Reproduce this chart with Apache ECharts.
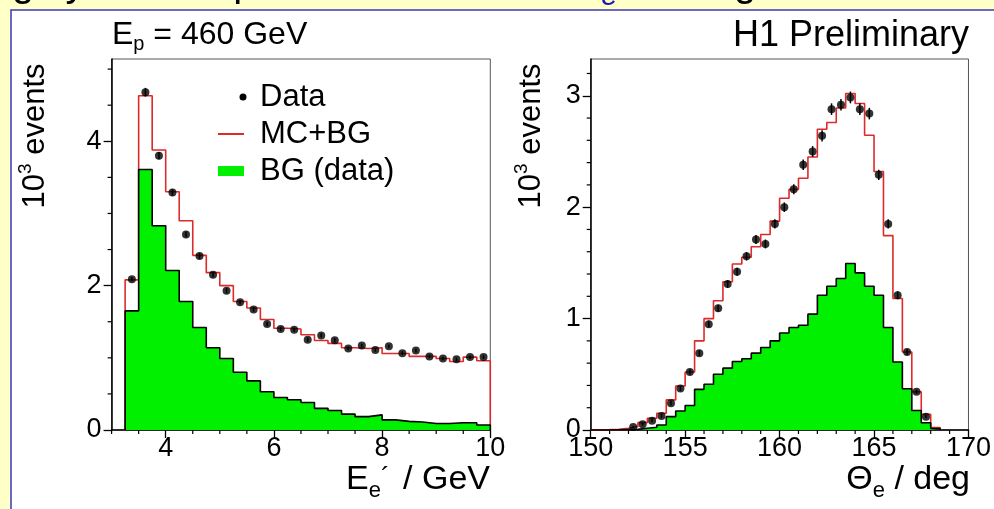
<!DOCTYPE html>
<html><head><meta charset="utf-8">
<script src="https://cdn.jsdelivr.net/npm/echarts@6/dist/echarts.min.js"></script>
<style>html,body{margin:0;padding:0;background:#ffffc8;} #c{width:994px;height:509px;}</style>
</head><body><div id="c"></div>
<script>
// ---------- Left panel: E_e' spectrum (bins of 0.25 GeV from 3.25) ----------
const eEdgeStart = 3.25, eBinWidth = 0.25;
const eMcBg = [2.08,4.63,3.88,3.30,2.90,2.42,2.18,2.00,1.78,1.69,1.53,1.41,1.40,1.32,1.24,1.20,1.14,1.13,1.14,1.06,1.06,1.02,1.02,0.99,0.95,1.01,0.96];
const eBg   = [1.65,3.61,2.83,2.21,1.78,1.42,1.14,0.99,0.80,0.68,0.53,0.45,0.42,0.38,0.30,0.27,0.22,0.185,0.21,0.14,0.12,0.11,0.09,0.09,0.10,0.10,0.07];
const eData = [2.09,4.68,3.80,3.29,2.71,2.41,2.15,1.93,1.77,1.67,1.47,1.40,1.39,1.25,1.31,1.245,1.13,1.17,1.11,1.16,1.065,1.10,1.02,0.99,0.98,1.01,1.01];
const eErr  = [0.03,0.06,0.05,0.045,0.04,0.04,0.035,0.035,0.03,0.03,0.03,0.03,0.03,0.03,0.03,0.03,0.025,0.025,0.025,0.025,0.025,0.025,0.025,0.025,0.025,0.025,0.025];
const eXMajor = [4,6,8,10];
const eXMinor = [3,3.5,4.5,5,5.5,6.5,7,7.5,8.5,9,9.5];
const eYMajor = [0,2,4];
const eYMinor = [0.5,1,1.5,2.5,3,3.5,4.5,5];

// ---------- Right panel: Theta_e spectrum (bins of 0.5 deg from 150) ----------
const tEdgeStart = 150, tBinWidth = 0.5;
const tMcBg = [0.002,0.003,0.006,0.015,0.03,0.066,0.105,0.15,0.27,0.395,0.52,0.80,1.00,1.16,1.33,1.49,1.55,1.645,1.755,1.875,2.08,2.16,2.26,2.45,2.70,2.76,2.89,3.02,2.93,2.645,2.32,1.745,1.18,0.70,0.342,0.14,0.022];
const tBg   = [0,0,0.002,0.004,0.006,0.015,0.024,0.045,0.12,0.17,0.22,0.365,0.41,0.50,0.555,0.615,0.64,0.69,0.74,0.80,0.87,0.92,0.94,1.04,1.21,1.29,1.36,1.495,1.41,1.29,1.21,0.92,0.61,0.37,0.175,0.065,0.013];
const tDataFirstBin = 4; // first data point sits in bin 152-152.5
const tData = [0.027,0.052,0.084,0.126,0.24,0.372,0.52,0.69,0.95,1.093,1.31,1.42,1.56,1.71,1.67,1.85,2.00,2.16,2.38,2.50,2.64,2.88,2.92,2.985,2.88,2.84,2.29,1.85,1.21,0.70,0.344,0.12];
const tErr  = [0.01,0.012,0.015,0.018,0.02,0.022,0.025,0.027,0.03,0.032,0.035,0.036,0.038,0.04,0.04,0.042,0.043,0.045,0.047,0.048,0.05,0.052,0.052,0.053,0.052,0.052,0.047,0.042,0.035,0.027,0.02,0.012];
const tXMajor = [150,155,160,165,170];
const tXMinor = [151,152,153,154,156,157,158,159,161,162,163,164,166,167,168,169];
const tYMajor = [0,1,2,3];
const tYMinor = [0.2,0.4,0.6,0.8,1.2,1.4,1.6,1.8,2.2,2.4,2.6,2.8,3.2];

const FONT = 'Liberation Sans, Arial, Helvetica, sans-serif';
const RED = '#dd2a2a', GREEN = '#00f000';

function stepPoints(start, w, vals) {
  const pts = [[start, 0]];
  vals.forEach((v, i) => pts.push([start + i * w, v]));
  const end = start + vals.length * w;
  pts.push([end, vals[vals.length - 1]]);
  pts.push([end, 0]);
  return pts;
}
function centerPoints(start, w, firstBin, vals, errs) {
  return vals.map((v, i) => [start + (firstBin + i + 0.5) * w, v, errs[i]]);
}

const chart = echarts.init(document.getElementById('c'), null, {renderer: 'canvas'});

function mainX(g, min, max, vals) {
  return {type: 'value', gridIndex: g, min, max, position: 'bottom',
    axisLine: {show: true, onZero: false, lineStyle: {color: '#000', width: 1.5}},
    axisTick: {show: true, length: 8, customValues: vals, lineStyle: {color: '#000', width: 1.3}},
    axisLabel: {customValues: vals, fontSize: 27, color: '#000', margin: 5, fontFamily: FONT},
    splitLine: {show: false}};
}
function mainY(g, min, max, vals) {
  return {type: 'value', gridIndex: g, min, max, position: 'left',
    axisLine: {show: true, onZero: false, lineStyle: {color: '#000', width: 1.5}},
    axisTick: {show: true, length: 8, customValues: vals, lineStyle: {color: '#000', width: 1.3}},
    axisLabel: {customValues: vals, fontSize: 27, color: '#000', margin: 10, fontFamily: FONT},
    splitLine: {show: false}};
}
// minor ticks drawn through the axis scales (short marks just outside the axis line)
function minorTicks(xi, yi, vals, dir, xMin, yMin) {
  const data = vals.map(v => dir === 'x' ? [v, yMin] : [xMin, v]);
  return {type: 'custom', xAxisIndex: xi, yAxisIndex: yi, data, z: 8, clip: false, silent: true,
    encode: {x: 0, y: 1},
    renderItem: function (params, api) {
      const p = api.coord([api.value(0), api.value(1)]);
      const shape = dir === 'x' ? {x1: p[0], y1: p[1], x2: p[0], y2: p[1] + 4}
                                : {x1: p[0] - 4, y1: p[1], x2: p[0], y2: p[1]};
      return {type: 'line', shape, style: {stroke: '#000', lineWidth: 1.2}};
    }};
}

function errSeries(xi, yi, data) {
  return {type: 'custom', xAxisIndex: xi, yAxisIndex: yi, data, z: 6,
    encode: {x: 0, y: 1},
    renderItem: function (params, api) {
      const x = api.value(0), y = api.value(1), e = api.value(2);
      const p1 = api.coord([x, y - e]), p2 = api.coord([x, y + e]);
      return {type: 'line', shape: {x1: p1[0], y1: p1[1], x2: p2[0], y2: p2[1]},
        style: {stroke: '#000', lineWidth: 1.5}};
    }};
}

const eDataPts = centerPoints(eEdgeStart, eBinWidth, 0, eData, eErr);
const tDataPts = centerPoints(tEdgeStart, tBinWidth, tDataFirstBin, tData, tErr);

const option = {
  backgroundColor: '#ffffc8',
  animation: false,
  grid: [
    {left: 111.6, top: 59, width: 378.7, height: 371, show: true, borderColor: '#555', borderWidth: 1, backgroundColor: 'transparent'},
    {left: 590.7, top: 59, width: 379.3, height: 371, show: true, borderColor: '#555', borderWidth: 1, backgroundColor: 'transparent'}
  ],
  xAxis: [mainX(0, 3, 10, eXMajor), mainX(1, 150, 170, tXMajor)],
  yAxis: [mainY(0, 0, 5.14, eYMajor), mainY(1, 0, 3.33, tYMajor)],
  series: [
    {name: 'MC+BG', type: 'line', xAxisIndex: 0, yAxisIndex: 0, step: 'end', symbol: 'none', z: 3,
      data: stepPoints(eEdgeStart, eBinWidth, eMcBg), lineStyle: {color: RED, width: 1.6}},
    {name: 'BG (data)', type: 'line', xAxisIndex: 0, yAxisIndex: 0, step: 'end', symbol: 'none', z: 4,
      data: stepPoints(eEdgeStart, eBinWidth, eBg), lineStyle: {color: '#000', width: 1.6},
      areaStyle: {color: GREEN, opacity: 1}},
    errSeries(0, 0, eDataPts),
    {name: 'Data', type: 'scatter', xAxisIndex: 0, yAxisIndex: 0, symbol: 'circle', symbolSize: 8, z: 7,
      data: eDataPts, itemStyle: {color: '#000'}},
    minorTicks(0, 0, eXMinor, 'x', 3, 0),
    minorTicks(0, 0, eYMinor, 'y', 3, 0),

    {name: 'MC+BG', type: 'line', xAxisIndex: 1, yAxisIndex: 1, step: 'end', symbol: 'none', z: 3,
      data: stepPoints(tEdgeStart, tBinWidth, tMcBg), lineStyle: {color: RED, width: 1.6}},
    {name: 'BG (data)', type: 'line', xAxisIndex: 1, yAxisIndex: 1, step: 'end', symbol: 'none', z: 4,
      data: stepPoints(tEdgeStart, tBinWidth, tBg), lineStyle: {color: '#000', width: 1.6},
      areaStyle: {color: GREEN, opacity: 1}},
    errSeries(1, 1, tDataPts),
    {name: 'Data', type: 'scatter', xAxisIndex: 1, yAxisIndex: 1, symbol: 'circle', symbolSize: 8, z: 7,
      data: tDataPts, itemStyle: {color: '#000'}},
    minorTicks(1, 1, tXMinor, 'x', 150, 0),
    minorTicks(1, 1, tYMinor, 'y', 150, 0)
  ],
  graphic: [
    {type: 'rect', z: -10, shape: {x: 11, y: 10, width: 990, height: 510},
      style: {fill: '#fff', stroke: '#3a3ab4', lineWidth: 1.5}},
    // cut-off title fragments at the very top
    {type: 'text', z: -11, x: 12, y: 5, style: {text: 'ghly', font: '40px ' + FONT, fill: '#000', textVerticalAlign: 'bottom'}},
    {type: 'text', z: -11, x: 200, y: 5, style: {text: 'mp', font: '40px ' + FONT, fill: '#000', textVerticalAlign: 'bottom'}},
    {type: 'text', z: -11, x: 734, y: 5, style: {text: 'g', font: '40px ' + FONT, fill: '#000', textVerticalAlign: 'bottom'}},
    {type: 'text', z: -9, x: 601, y: 12, style: {text: 'e', font: 'italic 30px ' + FONT, fill: '#1a1ab0', textVerticalAlign: 'bottom'}},
    // panel titles
    {type: 'text', x: 112, y: 35, style: {text: '{m|E}{s|p}{m| = 460 GeV}', textVerticalAlign: 'middle',
      rich: {m: {fontSize: 32, fontFamily: FONT, fill: '#000'}, s: {fontSize: 20, fontFamily: FONT, fill: '#000', padding: [18, 0, 0, 0]}}}},
    {type: 'text', x: 969, y: 36, style: {text: 'H1 Preliminary', font: '36px ' + FONT, fill: '#000', textAlign: 'right', textVerticalAlign: 'middle'}},
    // y-axis titles
    {type: 'text', x: 35, y: 136, rotation: Math.PI / 2, style: {text: '{m|10}{s|3}{m| events}', textAlign: 'center', textVerticalAlign: 'middle',
      rich: {m: {fontSize: 31, fontFamily: FONT, fill: '#000'}, s: {fontSize: 19, fontFamily: FONT, fill: '#000', padding: [0, 0, 18, 0]}}}},
    {type: 'text', x: 531, y: 136, rotation: Math.PI / 2, style: {text: '{m|10}{s|3}{m| events}', textAlign: 'center', textVerticalAlign: 'middle',
      rich: {m: {fontSize: 31, fontFamily: FONT, fill: '#000'}, s: {fontSize: 19, fontFamily: FONT, fill: '#000', padding: [0, 0, 18, 0]}}}},
    // x-axis titles
    {type: 'text', x: 490, y: 480, style: {text: '{m|E}{s|e}{p|´}{m| / GeV}', textAlign: 'right', textVerticalAlign: 'middle',
      rich: {m: {fontSize: 34, fontFamily: FONT, fill: '#000'}, s: {fontSize: 22, fontFamily: FONT, fill: '#000', padding: [22, 0, 0, 0]},
             p: {fontSize: 26, fontFamily: FONT, fill: '#000', padding: [0, 4, 4, 0]}}}},
    {type: 'text', x: 970, y: 480, style: {text: '{m|Θ}{s|e}{m| / deg}', textAlign: 'right', textVerticalAlign: 'middle',
      rich: {m: {fontSize: 34, fontFamily: FONT, fill: '#000'}, s: {fontSize: 22, fontFamily: FONT, fill: '#000', padding: [22, 0, 0, 0]}}}},
    // legend (left panel)
    {type: 'circle', shape: {cx: 243, cy: 97, r: 3.5}, style: {fill: '#000'}},
    {type: 'text', x: 260, y: 97, style: {text: 'Data', font: '31px ' + FONT, fill: '#000', textVerticalAlign: 'middle'}},
    {type: 'line', shape: {x1: 218, y1: 134, x2: 244, y2: 134}, style: {stroke: RED, lineWidth: 2}},
    {type: 'text', x: 260, y: 134, style: {text: 'MC+BG', font: '31px ' + FONT, fill: '#000', textVerticalAlign: 'middle'}},
    {type: 'rect', shape: {x: 218, y: 166, width: 26, height: 10}, style: {fill: GREEN}},
    {type: 'text', x: 260, y: 171, style: {text: 'BG (data)', font: '31px ' + FONT, fill: '#000', textVerticalAlign: 'middle'}}
  ]
};
chart.setOption(option);
</script></body></html>
